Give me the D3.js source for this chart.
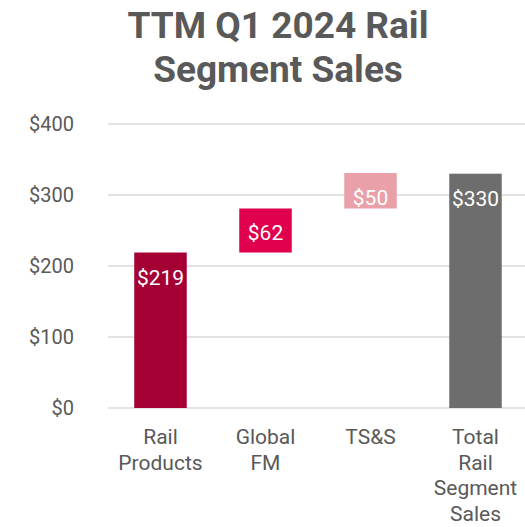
<!DOCTYPE html>
<html lang="en">
<head>
  <meta charset="UTF-8">
  <title>TTM Q1 2024 Rail Segment Sales</title>
  <script src="https://d3js.org/d3.v7.min.js"></script>
  <style>
    body { margin: 0; font-family: Roboto, Arial, sans-serif; background: #fff; }
    svg { display: block; }
  </style>
</head>
<body>
  <div id="chart"></div>
  <script>
    // data
    const categories = ["Rail Products", "Global FM", "TS&S", "Total Rail Segment Sales"];
    const categoryLines = [["Rail", "Products"], ["Global", "FM"], ["TS&S"], ["Total", "Rail", "Segment", "Sales"]];
    const values = [219, 62, 50, 330];
    const isTotal = [false, false, false, true];
    const colors = ["#A50034", "#E0004D", "#EAA0A8", "#6D6D6D"];
    const yTicks = [0, 100, 200, 300, 400];

    const width = 525, height = 527;
    const margin = { top: 124, right: 0, bottom: 119, left: 108 };

    const svg = d3.select("#chart").append("svg")
      .attr("width", width)
      .attr("height", height);

    // title
    svg.append("text")
      .attr("x", 278).attr("y", 0)
      .attr("text-anchor", "middle")
      .style("font-size", "37px").style("font-weight", "bold").style("fill", "#595959")
      .selectAll("tspan")
      .data(["TTM Q1 2024 Rail", "Segment Sales"])
      .enter().append("tspan")
      .attr("x", 278)
      .attr("y", (d, i) => 38 + i * 44)
      .text(d => d);

    const x = d3.scaleBand()
      .domain(categories)
      .range([margin.left, width - margin.right + 3])
      .paddingInner(0.5)
      .paddingOuter(0.25);

    const y = d3.scaleLinear()
      .domain([0, 400])
      .range([height - margin.bottom, margin.top]);

    // gridlines
    svg.append("g")
      .selectAll("line")
      .data(yTicks)
      .enter().append("line")
      .attr("x1", margin.left).attr("x2", width)
      .attr("y1", d => y(d)).attr("y2", d => y(d))
      .attr("stroke", "#e3e3e3").attr("stroke-width", 2);

    // y labels
    svg.append("g")
      .selectAll("text")
      .data(yTicks)
      .enter().append("text")
      .attr("x", 74)
      .attr("y", d => y(d))
      .attr("dy", "0.35em")
      .attr("text-anchor", "end")
      .style("font-size", "20px").style("fill", "#595959")
      .text(d => "$" + d);

    // waterfall bars
    let running = 0;
    const bars = values.map((v, i) => {
      let start, end;
      if (isTotal[i]) { start = 0; end = v; }
      else { start = running; end = running + v; running = end; }
      return { cat: categories[i], value: v, start: start, end: end, color: colors[i] };
    });

    svg.append("g")
      .selectAll("rect")
      .data(bars)
      .enter().append("rect")
      .attr("x", d => x(d.cat))
      .attr("width", x.bandwidth())
      .attr("y", d => y(d.end))
      .attr("height", d => y(d.start) - y(d.end))
      .attr("fill", d => d.color);

    svg.append("g")
      .selectAll("text")
      .data(bars)
      .enter().append("text")
      .attr("x", d => x(d.cat) + x.bandwidth() / 2)
      .attr("y", d => y(d.end) + 32)
      .attr("text-anchor", "middle")
      .style("font-size", "21px").style("fill", "#fff")
      .text(d => "$" + d.value);

    // category labels
    const cats = svg.append("g")
      .selectAll("text")
      .data(categories)
      .enter().append("text")
      .attr("text-anchor", "middle")
      .style("font-size", "21px").style("fill", "#595959");

    cats.selectAll("tspan")
      .data((d, i) => categoryLines[i].map(t => ({ cat: d, t: t })))
      .enter().append("tspan")
      .attr("x", d => x(d.cat) + x.bandwidth() / 2)
      .attr("y", (d, j) => 444 + j * 25.7)
      .text(d => d.t);
  </script>
</body>
</html>
